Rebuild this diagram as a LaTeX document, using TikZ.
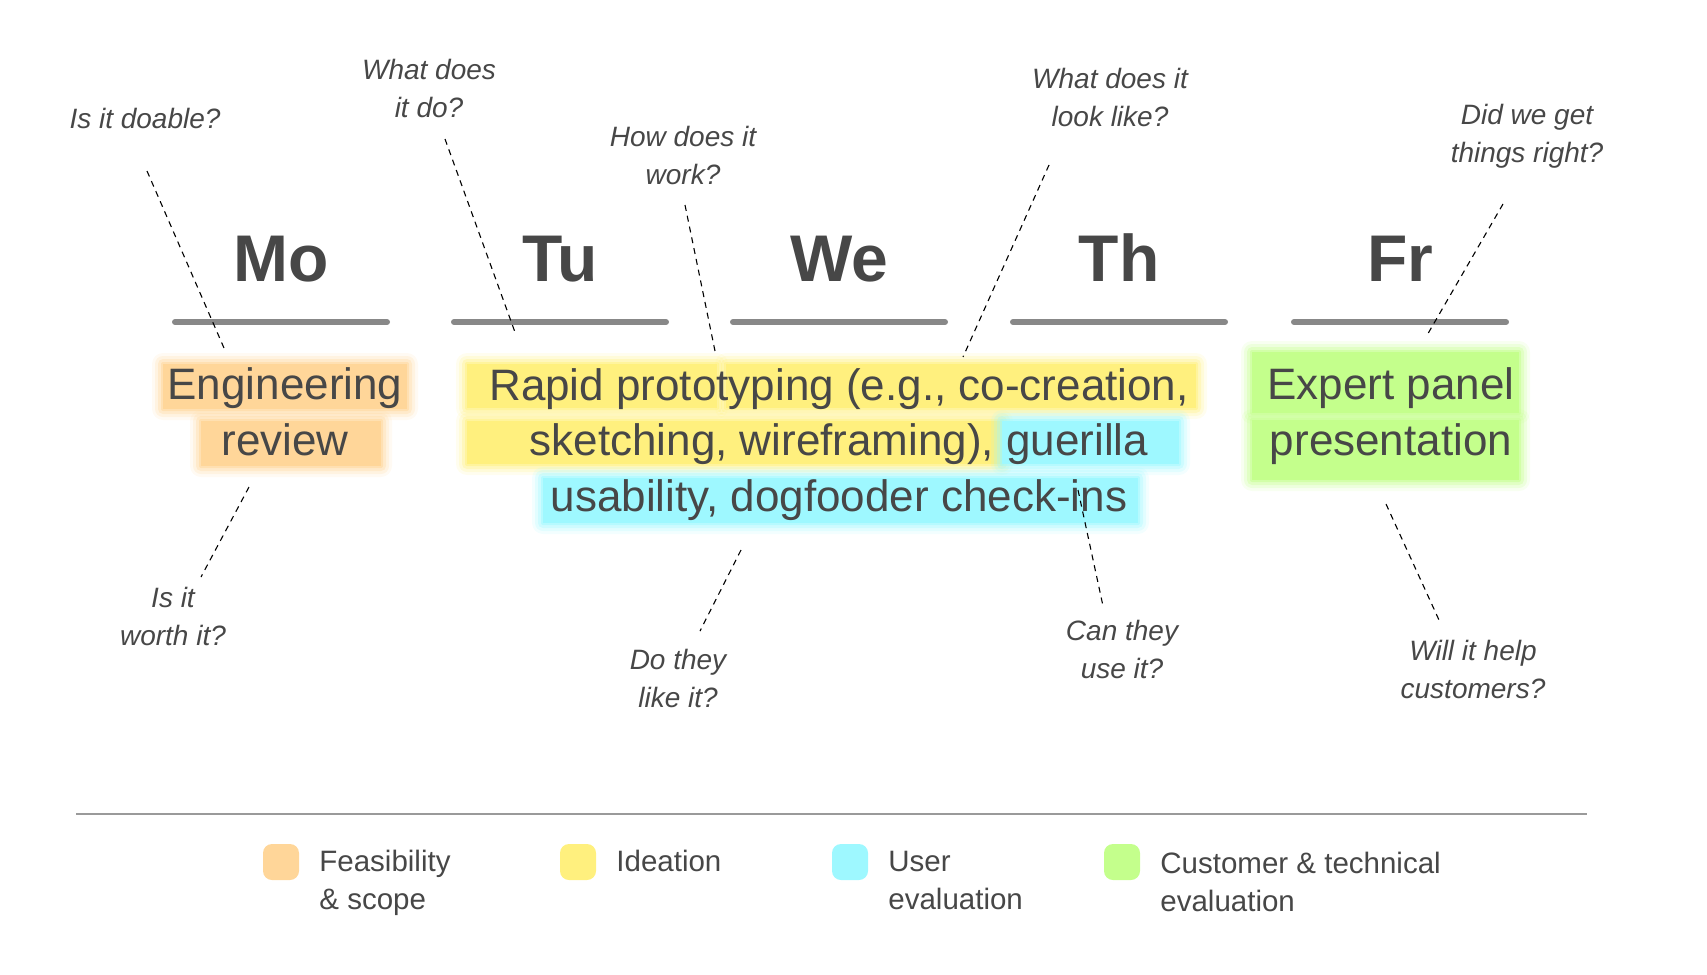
\documentclass[tikz,border=0pt]{standalone}
\usepackage{fontspec}
\setmainfont{Liberation Sans}
\usetikzlibrary{calc,positioning}

\definecolor{ink}{HTML}{474747}
\definecolor{barg}{HTML}{888888}
\definecolor{ruleg}{HTML}{9A9A9A}
\definecolor{hlorange}{HTML}{FFD699}
\definecolor{hlyellow}{HTML}{FFF07E}
\definecolor{hlcyan}{HTML}{9EF8FF}
\definecolor{hlgreen}{HTML}{C4FF8C}

\tikzset{
  day/.style={font=\fontsize{66}{70}\selectfont\bfseries, text=ink, anchor=base, inner sep=0pt},
  bar/.style={draw=barg, line width=6pt, line cap=round},
  body/.style={font=\fontsize{44}{55.5}\selectfont, text=ink, anchor=base, align=center, inner sep=0pt},
  quest/.style={font=\fontsize{28}{38}\selectfont\itshape, text=ink, anchor=base, align=center, inner sep=0pt},
  pointer/.style={draw=black, line width=1.1pt, dash pattern=on 6pt off 5pt},
  swatch/.style={fill=#1, minimum size=36pt, rounded corners=9pt, inner sep=0pt},
  legtext/.style={font=\fontsize{29.5}{38}\selectfont, text=ink, anchor=base west, align=left, inner sep=0pt},
  rulebar/.style={draw=ruleg, line width=1.6pt},
}

\begin{document}
\begin{tikzpicture}[x=1pt,y=-1pt]
  \useasboundingbox (0,0) rectangle (1707,974);

  % highlight blocks, soft edges
  \foreach \c/\xa/\ya/\xb/\yb in {
    hlorange/163/364/407/409, hlorange/201/421/381/466,
    hlyellow/467/364/717/408, hlyellow/726/364/1196/408,
    hlyellow/467/421/1002/464, hlcyan/1002/421/1179/464,
    hlcyan/543/478/1138/523,
    hlgreen/1252/352/1519/413, hlgreen/1252/420/1519/480
  }{
    \foreach \e/\o in {11/0.12,8/0.2,5/0.3,2/0.5}{
      \fill[\c, fill opacity=\o, rounded corners=\e pt] (\xa-\e,\ya-\e) rectangle (\xb+\e,\yb+\e);
    }
    \fill[\c] (\xa,\ya) rectangle (\xb,\yb);
  }

  % days and their bars
  \foreach \d/\x in {Mo/281,Tu/560,We/839,Th/1119,Fr/1400}{
    \node[day] (\d) at (\x,281) {\d};
    \draw[bar] (\x-106,322) -- (\x+106,322);
  }

  % activities (anchored on the last line)
  \node[body] (engreview) at (285,455) {Engineering\\review};
  \node[body] (proto) at (839,511)
    {Rapid prototyping (e.g., co-creation,\\sketching, wireframing), guerilla\\usability, dogfooder check-ins};
  \node[body] (panel) at (1391,455) {Expert panel\\presentation};

  % questions
  \node[quest] (doable) at (145,128) {Is it doable?};
  \node[quest] (whatdo) at (429,117) {What does\\it do?};
  \node[quest] (howwork) at (683,184) {How does it\\work?};
  \node[quest] (looklike) at (1110,126) {What does it\\look like?};
  \node[quest] (right) at (1527,162) {Did we get\\things right?};
  \node[quest] (worth) at (173,645) {Is it\\worth it?};
  \node[quest] (like) at (678,707) {Do they\\like it?};
  \node[quest] (use) at (1122,678) {Can they\\use it?};
  \node[quest] (help) at (1473,698) {Will it help\\customers?};

  % pointers
  \foreach \n/\xa/\ya/\xb/\yb in {
    doable/147/171/224/348, whatdo/445/139/516/335, howwork/685/205/715/351,
    looklike/1049/165/963/357, right/1503/204/1426/337,
    worth/249/487/201/577, like/741/550/700/631,
    use/1078/490/1103/606, help/1386/504/1439/620
  }{
    \coordinate (\n-a) at (\xa,\ya);
    \coordinate (\n-b) at (\xb,\yb);
    \draw[pointer] (\n-a) -- (\n-b);
  }

  % legend
  \draw[rulebar] (76,814) -- (1587,814);
  \node[swatch=hlorange] (swfeas) at (281,862) {};
  \node[swatch=hlyellow] (swidea) at (578,862) {};
  \node[swatch=hlcyan] (swuser) at (850,862) {};
  \node[swatch=hlgreen] (swcust) at (1122,862) {};
  \node[legtext] (lfeas) at ($(swfeas.east)+(20,47)$) {Feasibility\\\& scope};
  \node[legtext] (lidea) at ($(swidea.east)+(20,9)$) {Ideation};
  \node[legtext] (luser) at ($(swuser.east)+(20,47)$) {User\\evaluation};
  \node[legtext] (lcust) at ($(swcust.east)+(20,49)$) {Customer \& technical\\evaluation};
\end{tikzpicture}
\end{document}
